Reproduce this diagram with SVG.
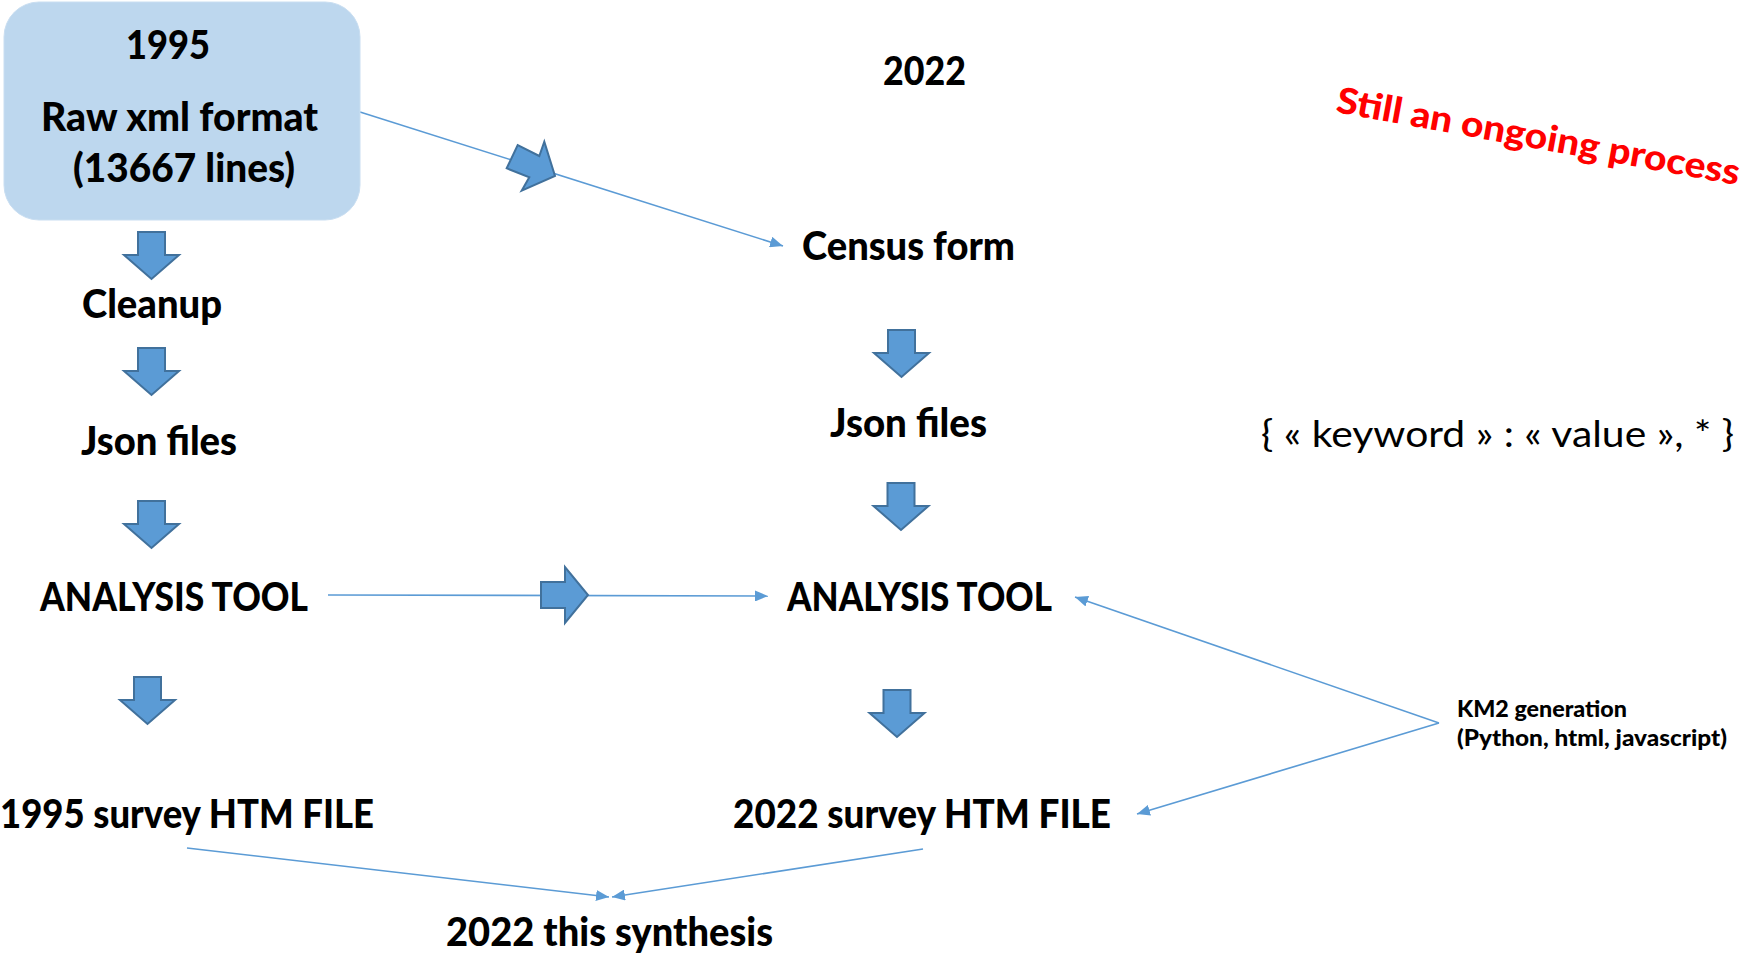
<svg xmlns="http://www.w3.org/2000/svg" xmlns:xlink="http://www.w3.org/1999/xlink" width="1746" height="955" viewBox="0 0 1746 955">
  <style>
    .lbl { font-family: Lato, "Open Sans", "Liberation Sans", sans-serif; font-weight: 900; font-size: 39px; fill: #000; }
    .small { font-family: Lato, "Open Sans", "Liberation Sans", sans-serif; font-weight: 900; font-size: 22px; fill: #000; }
    .reg { font-family: Lato, "Open Sans", "Liberation Sans", sans-serif; font-weight: normal; font-size: 36px; fill: #000; }
    .red { font-family: Lato, "Open Sans", "Liberation Sans", sans-serif; font-weight: 900; font-size: 36px; fill: #FF0000; }
    .blk { fill: #5B9BD5; stroke: #41719C; stroke-width: 2; stroke-linejoin: miter; }
    .conn { fill: none; stroke: #5B9BD5; stroke-width: 1.6; }
  </style>
  <defs>
    <marker id="tip" markerUnits="userSpaceOnUse" markerWidth="13" markerHeight="11" refX="13" refY="5.5" orient="auto">
      <path d="M0,0 L13,5.5 L0,11 z" fill="#5B9BD5"/>
    </marker>
    <!-- block arrow pointing down, origin at top centre of the shaft -->
    <path id="down" class="blk" d="M-13.5,0 H13.5 V23 H27.5 L0,47 L-27.5,23 H-13.5 Z"/>
  </defs>

  <rect width="1746" height="955" fill="#FFFFFF"/>

  <!-- connectors -->
  <g id="connectors">
    <line class="conn" x1="360" y1="112" x2="783" y2="246" marker-end="url(#tip)"/>
    <line class="conn" x1="328" y1="595" x2="768" y2="596" marker-end="url(#tip)"/>
    <line class="conn" x1="1439" y1="723" x2="1075" y2="597" marker-end="url(#tip)"/>
    <line class="conn" x1="1439" y1="723" x2="1137" y2="814" marker-end="url(#tip)"/>
    <line class="conn" x1="187" y1="848" x2="609" y2="897" marker-end="url(#tip)"/>
    <line class="conn" x1="923" y1="849" x2="612" y2="897" marker-end="url(#tip)"/>
  </g>

  <!-- block arrows -->
  <g id="block-arrows">
    <use xlink:href="#down" href="#down" x="151.5" y="232"/>
    <use xlink:href="#down" href="#down" x="151.5" y="348"/>
    <use xlink:href="#down" href="#down" x="151.5" y="501"/>
    <use xlink:href="#down" href="#down" x="147.5" y="677"/>
    <use xlink:href="#down" href="#down" x="901.5" y="330"/>
    <use xlink:href="#down" href="#down" x="901" y="483"/>
    <use xlink:href="#down" href="#down" x="897" y="690"/>
    <path class="blk" d="M541,582 H565 V567 L588,595 L565,623 V608 H541 Z"/>
    <path class="blk" d="M506.7,168.3 L517.7,145 L539.3,156 L544.3,141.7 L555,176 L521.7,190.7 L529.3,177.3 Z"/>
  </g>

  <!-- 1995 source node -->
  <g id="node-raw-xml">
    <rect x="4" y="2" width="356" height="218" rx="35" ry="35" fill="#BDD7EE" stroke="#C9DEF1" stroke-width="1"/>
    <text class="lbl" x="126" y="59" textLength="84" lengthAdjust="spacingAndGlyphs">1995</text>
    <text class="lbl" x="41" y="131" textLength="277" lengthAdjust="spacingAndGlyphs">Raw xml format</text>
    <text class="lbl" x="73" y="182" textLength="222" lengthAdjust="spacingAndGlyphs">(13667 lines)</text>
  </g>

  <g id="title-2022">
    <text class="lbl" x="883" y="85" textLength="83" lengthAdjust="spacingAndGlyphs">2022</text>
  </g>

  <g id="note-ongoing">
    <text class="red" x="1335" y="112" transform="rotate(10.3 1335 112)" textLength="409" lengthAdjust="spacingAndGlyphs">Still an ongoing process</text>
  </g>

  <g id="node-census-form">
    <text class="lbl" x="802" y="260" textLength="213" lengthAdjust="spacingAndGlyphs">Census form</text>
  </g>

  <g id="node-cleanup">
    <text class="lbl" x="82" y="318" textLength="140" lengthAdjust="spacingAndGlyphs">Cleanup</text>
  </g>

  <g id="node-json-1995">
    <text class="lbl" x="81" y="455" textLength="156" lengthAdjust="spacingAndGlyphs">Json files</text>
  </g>

  <g id="node-json-2022">
    <text class="lbl" x="830" y="437" textLength="157" lengthAdjust="spacingAndGlyphs">Json files</text>
  </g>

  <g id="note-json-format">
    <text class="reg" x="1261" y="447" textLength="473" lengthAdjust="spacingAndGlyphs">{ « keyword » : « value », * }</text>
  </g>

  <g id="node-analysis-1995">
    <text class="lbl" x="40" y="611" textLength="268" lengthAdjust="spacingAndGlyphs">ANALYSIS TOOL</text>
  </g>

  <g id="node-analysis-2022">
    <text class="lbl" x="787" y="611" textLength="265" lengthAdjust="spacingAndGlyphs">ANALYSIS TOOL</text>
  </g>

  <g id="node-km2">
    <text class="small" x="1457" y="717" textLength="170" lengthAdjust="spacingAndGlyphs">KM2 generation</text>
    <text class="small" x="1457" y="746" textLength="270" lengthAdjust="spacingAndGlyphs">(Python, html, javascript)</text>
  </g>

  <g id="node-htm-1995">
    <text class="lbl" x="0" y="828" textLength="374" lengthAdjust="spacingAndGlyphs">1995 survey HTM FILE</text>
  </g>

  <g id="node-htm-2022">
    <text class="lbl" x="733" y="828" textLength="378" lengthAdjust="spacingAndGlyphs">2022 survey HTM FILE</text>
  </g>

  <g id="node-synthesis">
    <text class="lbl" x="446" y="946" textLength="327" lengthAdjust="spacingAndGlyphs">2022 this synthesis</text>
  </g>
</svg>
